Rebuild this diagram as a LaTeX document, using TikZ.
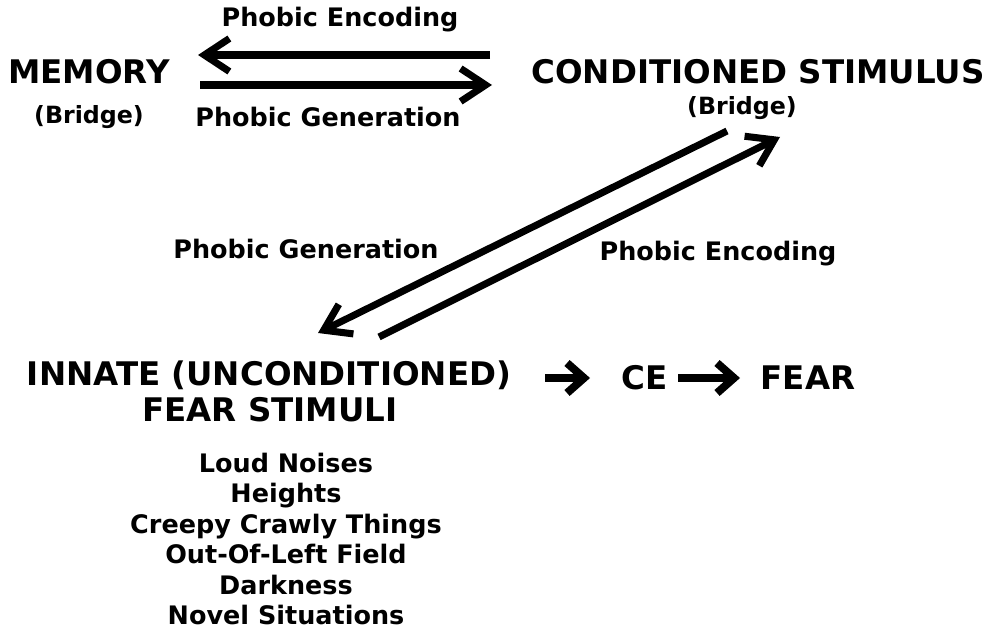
\documentclass[tikz,border=0pt]{standalone}
\usepackage{fontspec}
\setmainfont{DejaVu Sans}
\usetikzlibrary{arrows.meta}

\tikzset{
  big/.style={font=\bfseries\fontsize{18.5}{20}\selectfont, inner sep=0pt},
  lbl/.style={font=\bfseries\fontsize{14.5}{17.4}\selectfont, inner sep=0pt},
  bridge/.style={font=\bfseries\fontsize{13.5}{15}\selectfont, inner sep=0pt},
  fat/.style={line width=4pt, -{Straight Barb[length=5mm, width=6.6mm, line width=4pt]}},
  stubby/.style={line width=4.5pt, -{Straight Barb[length=3.4mm, width=6mm, line width=4.5pt]}}
}

\begin{document}
\begin{tikzpicture}[x=0.02cm, y=-0.02cm]
    \useasboundingbox (0,0) rectangle (997,631);
    % Top row
    \node[big] (memory) at (89,72) {MEMORY};
    \node[bridge] (membridge) at (89,117) {(Bridge)};
    \node[big] (cs) at (758,72) {CONDITIONED STIMULUS};
    \node[bridge] (csbridge) at (742,108) {(Bridge)};
    \node[lbl] (enctop) at (340,20) {Phobic Encoding};
    \node[lbl] (gentop) at (328,117) {Phobic Generation};
    \coordinate (e1) at (490,55);
    \coordinate (e2) at (198,55);
    \coordinate (g1) at (200,85);
    \coordinate (g2) at (492,85);
    \draw[fat] (e1) -- (e2);
    \draw[fat] (g1) -- (g2);
    % Diagonal pair
    \node[lbl] (genmid) at (306,249) {Phobic Generation};
    \node[lbl] (encmid) at (718,254) {Phobic Encoding};
    \coordinate (d1) at (727,131);
    \coordinate (d2) at (318,333);
    \coordinate (u1) at (379,337);
    \coordinate (u2) at (780,137);
    \draw[fat] (d1) -- (d2);
    \draw[fat] (u1) -- (u2);
    % Bottom row
    \node[big] (innate) at (269,375) {INNATE (UNCONDITIONED)};
    \node[big] (stimuli) at (270,410) {FEAR STIMULI};
    \node[big] (ce) at (645,378) {CE};
    \node[big] (fear) at (808,378) {FEAR};
    \coordinate (a1) at (545,378);
    \coordinate (a2) at (590,378);
    \coordinate (b1) at (678,378);
    \coordinate (b2) at (740,378);
    \draw[stubby] (a1) -- (a2);
    \draw[stubby] (b1) -- (b2);
    % Innate stimuli list
    \node[lbl, align=center] (list) at (286,539) {Loud Noises\\Heights\\Creepy Crawly Things\\Out-Of-Left Field\\Darkness\\Novel Situations};
\end{tikzpicture}
\end{document}
